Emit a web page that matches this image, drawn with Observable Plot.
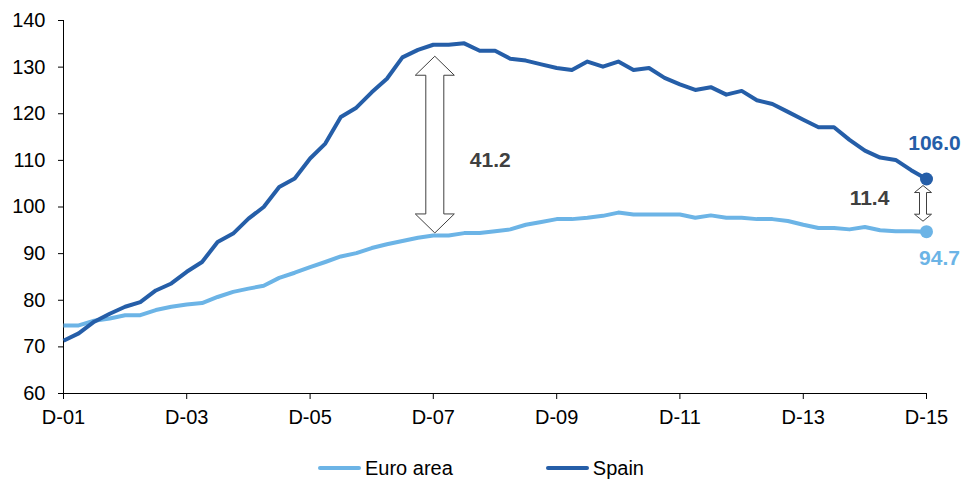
<!DOCTYPE html>
<html>
<head>
<meta charset="utf-8">
<script src="https://cdn.jsdelivr.net/npm/d3@7"></script>
<script src="https://cdn.jsdelivr.net/npm/@observablehq/plot@0.6"></script>
<style>
  html, body { margin: 0; padding: 0; background: #fff; }
  #wrap { width: 962px; font-family: "Liberation Sans", Arial, sans-serif; }
  #legend { height: 35px; display: flex; justify-content: center; align-items: flex-start; gap: 93px; padding-top: 12px; box-sizing: border-box; font-size: 20px; line-height: 22px; color: #000; }
  .item { display: flex; align-items: center; }
  .sw { width: 43px; height: 4px; border-radius: 2px; margin-right: 4px; }
</style>
</head>
<body>
<div id="wrap"></div>
<script>
// Quarterly, Dec 2001 .. Dec 2015
const spain = [71.3, 72.9, 75.4, 77.1, 78.6, 79.6, 82.1, 83.6, 86.1, 88.2, 92.5, 94.3, 97.5, 100.0, 104.3, 106.1,
  110.4, 113.6, 119.3, 121.3, 124.6, 127.5, 132.1, 133.7, 134.8, 134.8, 135.1, 133.5, 133.5, 131.8, 131.4, 130.6,
  129.8, 129.4, 131.2, 130.1, 131.2, 129.4, 129.8, 127.7, 126.3, 125.1, 125.7, 124.1, 124.9, 122.9, 122.1, 120.4,
  118.7, 117.1, 117.1, 114.4, 112.1, 110.6, 110.1, 107.9, 106.0];
const euro = [74.6, 74.6, 75.6, 76.1, 76.8, 76.8, 77.9, 78.6, 79.1, 79.4, 80.7, 81.8, 82.5, 83.1, 84.8, 85.9,
  87.1, 88.2, 89.4, 90.1, 91.2, 92.0, 92.7, 93.4, 93.9, 93.9, 94.4, 94.4, 94.8, 95.2, 96.2, 96.8,
  97.4, 97.4, 97.7, 98.1, 98.8, 98.4, 98.4, 98.4, 98.4, 97.7, 98.2, 97.7, 97.7, 97.4, 97.4, 97.0,
  96.2, 95.5, 95.5, 95.2, 95.7, 95.0, 94.8, 94.8, 94.7];
const seriesNames = ["Euro area", "Spain"];
const seriesColors = ["#6cb4e6", "#255ea8"];
const tickLabels = ["D-01", "D-03", "D-05", "D-07", "D-09", "D-11", "D-13", "D-15"];
const yTicks = [60, 70, 80, 90, 100, 110, 120, 130, 140];
const gapIndex = [24, 56];
const gapLabels = ["41.2", "11.4"];
const endLabels = ["94.7", "106.0"];

const dates = spain.map((_, i) => d3.utcMonth.offset(new Date(Date.UTC(2001, 11, 1)), 3 * i));
const rows = [];
euro.forEach((v, i) => rows.push({date: dates[i], value: v, series: seriesNames[0]}));
spain.forEach((v, i) => rows.push({date: dates[i], value: v, series: seriesNames[1]}));
const last = dates.length - 1;
const ends = [
  {date: dates[last], value: euro[last], series: seriesNames[0], label: endLabels[0]},
  {date: dates[last], value: spain[last], series: seriesNames[1], label: endLabels[1]}
];
const xTicks = dates.filter((d, i) => i % 8 === 0);
const tickMap = new Map(xTicks.map((d, i) => [+d, tickLabels[i]]));
const gaps = gapIndex.map((k, i) => ({date: dates[k], top: spain[k], bottom: euro[k], mid: (spain[k] + euro[k]) / 2, label: gapLabels[i]}));

const arrowStyles = [
  {dx: 2, gapTop: 12, gapBot: 2, hw: 19.5, sw: 9, hl: 19},
  {dx: -3, gapTop: 7, gapBot: 10, hw: 8.5, sw: 3.5, hl: 7}
];
function blockArrows(index, scales) {
  const g = d3.create("svg:g");
  gaps.forEach((d, i) => {
    const s = arrowStyles[i];
    const cx = scales.x(d.date) + s.dx;
    const y0 = scales.y(d.top) + s.gapTop;
    const y1 = scales.y(d.bottom) - s.gapBot;
    const pts = [
      [cx, y0], [cx + s.hw, y0 + s.hl], [cx + s.sw, y0 + s.hl], [cx + s.sw, y1 - s.hl], [cx + s.hw, y1 - s.hl],
      [cx, y1], [cx - s.hw, y1 - s.hl], [cx - s.sw, y1 - s.hl], [cx - s.sw, y0 + s.hl], [cx - s.hw, y0 + s.hl]
    ];
    g.append("path")
      .attr("d", "M" + pts.map(p => p.join(",")).join("L") + "Z")
      .attr("fill", "#fff").attr("stroke", "#404040").attr("stroke-width", 1);
  });
  return g.node();
}

const chart = Plot.plot({
  width: 962,
  height: 445,
  marginLeft: 63,
  marginRight: 36,
  marginTop: 20,
  marginBottom: 52,
  style: {fontFamily: "'Liberation Sans', Arial, sans-serif", fontSize: "20px", color: "#000", background: "#fff"},
  x: {type: "utc", domain: [dates[0], dates[last]]},
  y: {domain: [60, 140]},
  color: {domain: seriesNames, range: seriesColors},
  marks: [
    Plot.axisY({ticks: yTicks, tickSize: 5, tickPadding: 13, stroke: "#000", fill: "#000", fontSize: 20}),
    Plot.axisX({ticks: xTicks, tickSize: 6, tickPadding: 10, tickFormat: d => tickMap.get(+d), stroke: "#000", fill: "#000", fontSize: 20}),
    Plot.ruleX([dates[0]], {y1: 60, y2: 140, stroke: "#000", strokeWidth: 1}),
    Plot.ruleY([60], {x1: dates[0], x2: dates[last], stroke: "#000", strokeWidth: 1}),
    blockArrows,
    Plot.line(rows, {x: "date", y: "value", z: "series", stroke: "series", strokeWidth: 4, strokeLinejoin: "round", strokeLinecap: "butt"}),
    Plot.dot(ends, {x: "date", y: "value", fill: "series", r: 6.5}),
    Plot.text([ends[1]], {x: "date", y: "value", text: "label", fill: seriesColors[1], fontWeight: "bold", fontSize: 21, dx: 8, dy: -36}),
    Plot.text([ends[0]], {x: "date", y: "value", text: "label", fill: seriesColors[0], fontWeight: "bold", fontSize: 21, dx: 13, dy: 27}),
    Plot.text([gaps[0]], {x: "date", y: "mid", text: "label", fill: "#404040", fontWeight: "bold", fontSize: 21, dx: 57, dy: 20}),
    Plot.text([gaps[1]], {x: "date", y: "mid", text: "label", fill: "#404040", fontWeight: "bold", fontSize: 21, dx: -57, dy: -7})
  ]
});

const wrap = document.getElementById("wrap");
wrap.appendChild(chart);
const legend = document.createElement("div");
legend.id = "legend";
seriesNames.forEach((n, i) => {
  const it = document.createElement("div");
  it.className = "item";
  it.innerHTML = `<span class="sw" style="background:${seriesColors[i]}"></span><span>${n}</span>`;
  legend.appendChild(it);
});
wrap.appendChild(legend);
</script>
</body>
</html>
